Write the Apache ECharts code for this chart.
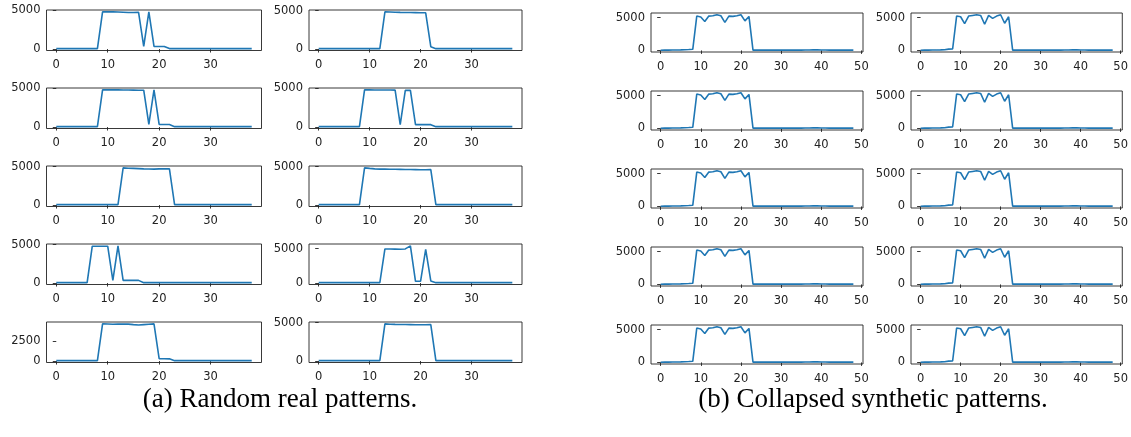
<!DOCTYPE html>
<html>
<head>
<meta charset="utf-8">
<script src="https://cdn.jsdelivr.net/npm/echarts@6/dist/echarts.min.js"></script>
<style>
html,body{margin:0;padding:0;background:#fff;}
#c{width:1131px;height:437px;}
</style>
</head>
<body>
<div id="c"></div>
<script>
// ---------- data ----------
const realXTicks = [0, 10, 20, 30];
const synthXTicks = [0, 10, 20, 30, 40, 50];
const yTicksMain = [0, 5000];
const yTicksSmall = [0, 2500];

const real1 = [50,50,50,50,50,50,50,50,50, 4800,4800,4800,4780,4750,4720,4720,4730,350,4800,330,330,330, 60, 50,50,50,50,50,50,50,50,50,50,50,50,50,50,50,50];
const real2 = [50,50,50,50,50,50,50,50,50,50,50,50,50, 4850,4830,4800,4780,4770,4760,4750,4740,4730, 300, 50,50,50,50,50,50,50,50,50,50,50,50,50,50,50,50];
const real3 = [50,50,50,50,50,50,50,50,50, 4800,4800,4800,4790,4780,4770,4760,4750,4750, 330,4800,330,330,320, 50,50,50,50,50,50,50,50,50,50,50,50,50,50,50,50];
const real4 = [50,50,50,50,50,50,50,50,50, 4820,4810,4800,4800,4790,4790,4780, 300,4750,4750,320,320,320,310, 50,50,50,50,50,50,50,50,50,50,50,50,50,50,50,50];
const real5 = [50,50,50,50,50,50,50,50,50,50,50,50,50, 4850,4800,4780,4750,4720,4700,4680,4720,4720,4720, 50,50,50,50,50,50,50,50,50,50,50,50,50,50,50,50];
const real6 = [50,50,50,50,50,50,50,50,50, 4850,4780,4720,4680,4680,4670,4660,4650,4640,4630,4620,4600,4600,4620, 50,50,50,50,50,50,50,50,50,50,50,50,50,50,50,50];
const real7 = [50,50,50,50,50,50,50, 4800,4800,4800,4800,350,4850,350,350,350,350, 50,50,50,50,50,50,50,50,50,50,50,50,50,50,50,50,50,50,50,50,50,50];
const real8 = [50,50,50,50,50,50,50,50,50,50,50,50,50, 4950,4950,4930,4900,4950,5400,250,260,4900,300, 50,50,50,50,50,50,50,50,50,50,50,50,50,50,50,50];
const real9 = [50,50,50,50,50,50,50,50,50, 4700,4680,4650,4660,4670,4660,4600,4550,4600,4650,4700, 300,300,280, 50,50,50,50,50,50,50,50,50,50,50,50,50,50,50,50];
const real10 = [50,50,50,50,50,50,50,50,50,50,50,50,50, 4850,4800,4780,4770,4760,4750,4740,4740,4740,4750, 50,50,50,50,50,50,50,50,50,50,50,50,50,50,50,50];

const synthA = [30,40,50,60,70,80,100,130,170, 5240,5100,4420,5240,5290,5440,5290,4270,5240,5190,5290,5440,4510,5190,
  50,50,50,50,50,50,50,50,50,50,50,50,50,60,70,80,80,70,60,50,50,50,50,50,50,50];
const synthB = [30,40,50,60,70,80,100,200,220, 5250,5150,4100,5250,5350,5450,5350,4000,5350,4900,5250,5450,4150,5150,
  50,50,50,50,50,50,50,50,50,50,50,50,50,60,70,80,80,70,60,50,50,50,50,50,50,50];

const captionA = '(a) Random real patterns.';
const captionB = '(b) Collapsed synthetic patterns.';

// panels: [series, panel, row, col, yTicks]
const panels = [
  [real1, 'a', 0, 0, yTicksMain], [real2, 'a', 0, 1, yTicksMain],
  [real3, 'a', 1, 0, yTicksMain], [real4, 'a', 1, 1, yTicksMain],
  [real5, 'a', 2, 0, yTicksMain], [real6, 'a', 2, 1, yTicksMain],
  [real7, 'a', 3, 0, yTicksMain], [real8, 'a', 3, 1, yTicksMain],
  [real9, 'a', 4, 0, yTicksSmall], [real10, 'a', 4, 1, yTicksMain],
  [synthA, 'b', 0, 0, yTicksMain], [synthB, 'b', 0, 1, yTicksMain],
  [synthA, 'b', 1, 0, yTicksMain], [synthB, 'b', 1, 1, yTicksMain],
  [synthA, 'b', 2, 0, yTicksMain], [synthB, 'b', 2, 1, yTicksMain],
  [synthA, 'b', 3, 0, yTicksMain], [synthB, 'b', 3, 1, yTicksMain],
  [synthA, 'b', 4, 0, yTicksMain], [synthB, 'b', 4, 1, yTicksMain]
];

// ---------- layout ----------
const layout = {
  a: { lefts: [46.5, 309], widths: [215, 213], top0: 10, height: 40.5, step: 78, xTicks: realXTicks },
  b: { lefts: [651, 911], widths: [212, 212], top0: 13, height: 39, step: 78, xTicks: synthXTicks }
};
const FONT = 'DejaVu Sans';
const FS = 11.5;
const TXT = '#222';
const fmt = v => String(Math.round(v));

const grids = [], xAxes = [], yAxes = [], series = [];
panels.forEach((p, i) => {
  const [vals, pan, row, col, yt] = p;
  const L = layout[pan];
  grids.push({
    left: L.lefts[col], top: L.top0 + row * L.step, width: L.widths[col], height: L.height,
    show: true, borderColor: '#222', borderWidth: 0.9, backgroundColor: 'transparent'
  });
  const n = vals.length - 1;
  const vmin = Math.min(...vals), vmax = Math.max(...vals);
  const yr = vmax - vmin;
  xAxes.push({
    type: 'value', gridIndex: i, min: -0.05 * n, max: n * 1.05,
    splitLine: { show: false }, axisLine: { show: false },
    axisTick: { show: true, customValues: L.xTicks, length: 3.5, inside: false, lineStyle: { color: '#222', width: 0.9 } },
    axisLabel: { show: true, customValues: L.xTicks, formatter: fmt, margin: 9, color: TXT, fontFamily: FONT, fontSize: FS }
  });
  yAxes.push({
    type: 'value', gridIndex: i, min: vmin - 0.05 * yr, max: vmax + 0.05 * yr,
    splitLine: { show: false }, axisLine: { show: false },
    axisTick: { show: true, customValues: yt, length: 3.5, inside: false, lineStyle: { color: '#222', width: 0.9 } },
    axisLabel: { show: true, customValues: yt, formatter: fmt, margin: 6, color: TXT, fontFamily: FONT, fontSize: FS }
  });
  series.push({
    type: 'line', xAxisIndex: i, yAxisIndex: i,
    data: vals.map((v, k) => [k, v]),
    showSymbol: false, symbol: 'none',
    lineStyle: { color: '#1f77b4', width: 1.6 },
    silent: true
  });
});

const chart = echarts.init(document.getElementById('c'), null, { renderer: 'canvas' });
chart.setOption({
  animation: false,
  backgroundColor: '#fff',
  grid: grids, xAxis: xAxes, yAxis: yAxes, series: series,
  graphic: [
    { type: 'text', x: 280, y: 400, style: { text: captionA, font: '27px "Liberation Serif"', fill: '#000', textAlign: 'center', textVerticalAlign: 'middle' } },
    { type: 'text', x: 873, y: 400, style: { text: captionB, font: '27px "Liberation Serif"', fill: '#000', textAlign: 'center', textVerticalAlign: 'middle' } }
  ]
});
</script>
</body>
</html>
